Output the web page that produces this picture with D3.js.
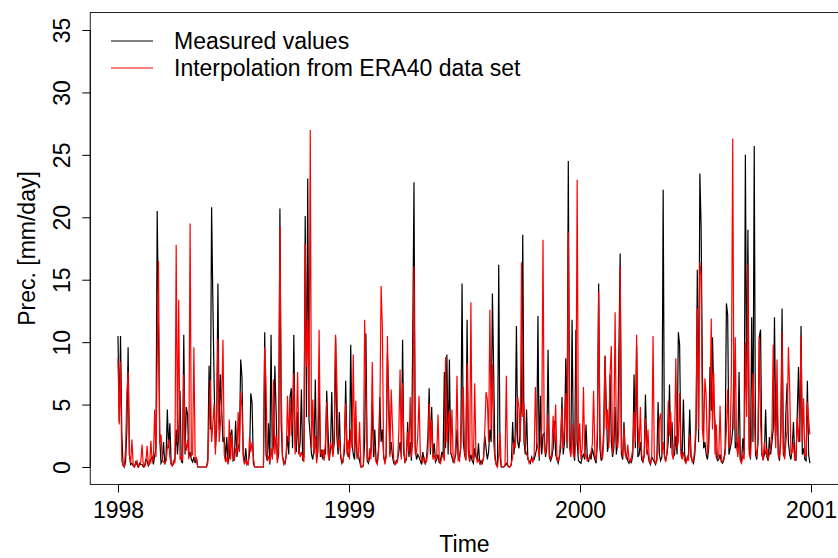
<!DOCTYPE html>
<html>
<head>
<meta charset="utf-8">
<script src="https://cdn.jsdelivr.net/npm/d3@7"></script>
<style>
  body { margin: 0; background: #fff; }
  text { font-family: "Liberation Sans", Arial, sans-serif; }
</style>
</head>
<body>
<div id="chart"></div>
<script>
// daily precipitation, sampled every 2 days from 1998-01-01
const startYear = 1998;
const stepDays = 2;

const measured = [
  10.5, 3.6, 10.5, 2.7, 0.2, 0, 0.4, 3.0, 9.6, 1.0,
  0.2, 0.3, 0.1, 0, 0.4, 0.2, 0, 0.3, 0.2, 0.2,
  0, 0.1, 0.6, 0.5, 0.1, 0.3, 0.6, 0.8, 0.2, 0.9,
  1.5, 20.5, 11.4, 2.3, 0.3, 0.5, 2.0, 0.2, 0.8, 4.6,
  1.5, 3.5, 0.3, 0.1, 0.3, 0.6, 3.0, 1.0, 2.6, 6.1,
  0.5, 0.3, 10.6, 1.0, 4.8, 4.2, 0.8, 1.2, 0.6, 0.4,
  0.8, 0.3, 0.8, 0, 0, 0, 0, 0, 0, 0,
  0, 0.6, 8.1, 3.0, 20.8, 13.2, 6.7, 1.5, 3.0, 14.7,
  3.0, 7.4, 4.5, 2.0, 2.4, 0.6, 2.4, 0.3, 0.8, 2.6,
  3.0, 0.5, 0.6, 3.7, 0.8, 1.5, 2.0, 8.6, 7.2, 1.0,
  0.3, 1.5, 0.2, 0.4, 1.0, 5.9, 5.1, 0.3, 0, 0,
  0, 0, 0, 0, 0, 0, 10.8, 1.0, 0.5, 3.5,
  0.2, 10.6, 0.8, 2.0, 8.1, 4.5, 0.5, 1.0, 20.7, 3.5,
  0.8, 0.5, 0.2, 1.0, 2.5, 1.0, 5.6, 6.3, 1.5, 10.6,
  2.0, 1.2, 4.4, 1.0, 2.0, 6.2, 0.5, 0.8, 20.1, 4.0,
  23.1, 3.8, 2.4, 1.0, 0.6, 1.5, 7.0, 0.5, 1.2, 6.7,
  0.8, 1.4, 0.6, 1.4, 1.0, 6.1, 3.0, 0.5, 1.5, 6.0,
  1.0, 2.0, 10.4, 2.5, 1.0, 4.4, 0.8, 0.3, 0.6, 1.2,
  6.9, 1.5, 0.8, 1.2, 9.8, 2.0, 1.0, 0.6, 3.4, 0.8,
  1.0, 0.5, 0, 0, 0.1, 2.0, 10.7, 0.5, 0.3, 0.8,
  1.2, 5.1, 0.8, 3.0, 0.6, 0.3, 1.5, 5.6, 2.0, 3.0,
  0.8, 0.4, 1.0, 9.1, 5.9, 1.0, 2.0, 0.8, 0.3, 0.2,
  0.5, 0.6, 1.2, 2.0, 0.8, 10.2, 1.0, 0.4, 0.6, 3.6,
  0.8, 2.0, 0.5, 10.2, 22.8, 1.5, 0.6, 1.0, 0.8, 0.5,
  0.2, 1.2, 0.6, 0.2, 0.8, 2.4, 6.3, 1.0, 4.8, 0.8,
  1.9, 0.4, 0.6, 1.0, 0.3, 0.6, 1.2, 0.8, 7.6, 1.5,
  9.0, 1.0, 8.6, 1.2, 0.8, 0.4, 0.6, 1.0, 3.0, 0.6,
  0.8, 1.5, 14.7, 2.0, 1.0, 0.6, 11.8, 1.2, 0.5, 1.0,
  0.5, 0.3, 1.5, 0.8, 0.6, 1.9, 0.2, 0.5, 0.3, 0.8,
  2.5, 1.5, 0.6, 1.2, 3.0, 2.0, 13.9, 7.6, 1.0, 0.2,
  0, 16.2, 1.0, 0, 0, 0, 0.1, 0.3, 0.1, 0,
  0, 0.2, 3.6, 1.0, 2.5, 11.3, 2.0, 1.5, 3.0, 5.0,
  18.6, 2.0, 1.0, 4.6, 0.6, 0.5, 0.3, 0.8, 0.5, 0.6,
  1.0, 1.5, 12.1, 0.5, 5.7, 1.0, 2.6, 2.7, 0.8, 1.5,
  9.4, 0.8, 0.5, 0.8, 1.5, 3.7, 1.0, 0.6, 0.3, 0.8,
  1.5, 5.6, 1.0, 2.0, 8.7, 1.5, 24.5, 2.0, 1.0, 11.8,
  1.2, 0.5, 11.0, 2.0, 0.5, 0.4, 0.3, 0.8, 1.0, 0.6,
  3.4, 0.8, 0.4, 1.0, 0.6, 1.5, 1.0, 0.6, 0.3, 2.0,
  14.7, 1.5, 0.5, 0.8, 3.0, 8.9, 5.0, 1.2, 2.0, 7.4,
  2.0, 0.8, 1.5, 4.8, 1.0, 2.0, 9.2, 17.1, 1.0, 0.6,
  3.6, 1.2, 1.0, 0.5, 0.3, 0.6, 0.4, 1.0, 7.4, 1.5,
  9.7, 0.8, 1.0, 2.0, 0.6, 0.4, 1.0, 5.8, 1.5, 1.0,
  0.4, 0.2, 0.8, 0.6, 0.4, 0.2, 0.6, 5.2, 1.0, 0.5,
  0.8, 22.2, 1.0, 0.5, 1.0, 2.0, 6.6, 1.5, 3.6, 0.8,
  1.0, 2.5, 1.0, 10.8, 9.8, 1.5, 0.8, 5.4, 1.0, 0.4,
  0.6, 1.0, 4.6, 0.8, 0.5, 0.3, 1.0, 3.0, 15.8, 2.0,
  23.5, 19.2, 7.5, 1.5, 2.0, 1.0, 0.6, 1.5, 8.0, 4.5,
  10.4, 5.6, 3.4, 0.8, 0.5, 0.6, 1.0, 0.4, 0.3, 0.6,
  1.5, 13.1, 12.2, 1.0, 1.5, 2.0, 3.0, 8.6, 1.5, 2.0,
  1.0, 7.6, 0.6, 0.5, 2.3, 1.0, 25.0, 6.0, 19.0, 1.5,
  0.6, 12.0, 2.0, 25.7, 1.0, 0.6, 2.0, 10.4, 11.0, 1.0,
  0.6, 1.0, 4.6, 0.8, 0.5, 2.4, 1.0, 2.0, 3.0, 12.0,
  2.5, 6.4, 1.0, 0.5, 3.0, 12.7, 1.0, 0.8, 4.3, 6.7,
  2.0, 1.0, 0.6, 1.5, 3.6, 0.8, 0.5, 4.2, 8.0, 2.0,
  11.3, 1.0, 1.5, 0.6, 0.5, 6.9, 1.0, 0.3
];

const era40 = [
  8.7, 3.4, 8.4, 0.5, 0.1, 0, 1.5, 5.9, 7.6, 1.0,
  0.3, 2.2, 0.2, 0, 0.3, 0.5, 0, 0.1, 0.4, 1.8,
  0.1, 0, 0.3, 1.7, 0.2, 0.2, 2.1, 0.4, 0.6, 4.6,
  0.8, 8.7, 16.5, 1.9, 2.6, 0.6, 0.4, 0.3, 0.5, 1.5,
  2.2, 0.8, 0.2, 0.1, 0.5, 0.3, 17.8, 2.0, 13.4, 0.6,
  0.8, 0.5, 7.4, 2.2, 1.3, 2.2, 0.6, 19.5, 0.9, 1.0,
  9.6, 0.5, 0.7, 0, 0, 0, 0, 0, 0, 0,
  0, 0.3, 4.0, 7.0, 2.0, 3.5, 5.1, 1.0, 4.0, 10.3,
  2.0, 3.5, 5.0, 10.2, 1.0, 0.4, 0.7, 0.2, 3.8, 0.6,
  2.5, 0.8, 0.5, 1.5, 1.0, 4.4, 1.2, 6.0, 4.8, 0.8,
  0.2, 0.6, 0.3, 0.2, 2.4, 1.2, 2.0, 0.8, 0, 0,
  0, 0, 0, 0, 0, 0, 9.6, 6.7, 0.6, 0.8,
  0.3, 1.5, 0.6, 7.0, 1.0, 2.5, 0.3, 1.8, 19.3, 6.4,
  1.0, 0.2, 0.4, 0.8, 5.7, 2.0, 5.4, 2.5, 4.0, 7.5,
  1.0, 2.8, 7.6, 1.5, 0.8, 1.2, 0.8, 0.4, 17.9, 8.0,
  11.8, 4.0, 27.0, 1.5, 5.4, 1.0, 2.5, 0.3, 2.0, 11.0,
  1.2, 0.9, 1.4, 0.5, 2.0, 5.2, 1.0, 0.6, 2.0, 1.5,
  0.8, 3.0, 10.6, 7.0, 1.5, 2.2, 1.0, 0.5, 0.4, 2.0,
  5.1, 1.0, 2.2, 0.6, 3.0, 1.5, 9.0, 1.2, 5.3, 1.0,
  0.6, 3.6, 0, 0, 0.2, 11.8, 6.6, 0.8, 0.4, 1.5,
  0.6, 8.4, 2.2, 1.0, 0.4, 0.2, 1.2, 4.0, 14.5, 11.2,
  1.0, 0.2, 0.8, 10.5, 4.2, 0.8, 6.2, 3.2, 0.6, 0.2,
  0.3, 0.4, 2.8, 7.8, 0.6, 6.7, 1.6, 0.3, 0.8, 2.8,
  1.2, 5.6, 0.8, 2.0, 16.1, 1.0, 1.2, 2.5, 5.7, 1.0,
  0.6, 0.4, 0.8, 0.3, 0.5, 1.2, 5.1, 1.5, 3.8, 0.6,
  1.0, 0.5, 1.0, 4.2, 0.5, 0.3, 0.8, 1.0, 0.5, 8.8,
  2.0, 3.5, 4.5, 1.0, 4.6, 0.6, 0.3, 1.8, 7.3, 0.8,
  0.4, 2.0, 4.0, 6.4, 1.2, 0.5, 8.3, 1.5, 0.4, 13.2,
  1.0, 0.5, 6.7, 1.0, 0.4, 0.6, 0.3, 0.2, 0.4, 0.6,
  3.0, 6.0, 5.4, 2.0, 12.6, 3.0, 8.2, 2.0, 0.6, 0.2,
  0, 1.0, 2.7, 0, 0, 0, 0.2, 7.3, 0.2, 0,
  0, 0.3, 0.8, 2.0, 1.5, 3.0, 5.6, 4.7, 2.0, 16.4,
  4.0, 5.1, 1.5, 1.0, 0.8, 0.3, 0.5, 0.6, 0.4, 1.0,
  6.4, 2.0, 1.5, 0.8, 2.0, 3.0, 18.2, 1.5, 1.0, 2.0,
  4.2, 1.0, 0.6, 1.2, 4.1, 2.0, 5.0, 0.8, 0.4, 1.0,
  2.5, 4.7, 1.5, 3.0, 5.9, 2.0, 18.8, 1.5, 0.8, 3.5,
  1.0, 0.8, 2.0, 23.0, 1.0, 3.5, 0.6, 1.5, 6.4, 0.8,
  1.0, 0.5, 0.6, 0.8, 1.2, 1.8, 6.1, 1.0, 0.5, 3.0,
  14.0, 3.1, 1.0, 0.6, 2.0, 8.9, 3.0, 4.6, 1.5, 7.4,
  9.7, 1.0, 2.5, 12.4, 2.0, 1.5, 3.0, 16.1, 1.5, 0.8,
  3.2, 1.0, 0.6, 1.8, 0.6, 0.4, 0.8, 1.5, 4.4, 2.0,
  10.6, 3.4, 1.5, 4.8, 1.0, 0.5, 0.8, 3.9, 1.0, 3.0,
  0.5, 0.3, 1.0, 10.5, 0.6, 0.3, 0.5, 1.5, 3.8, 4.3,
  1.0, 2.0, 0.8, 0.4, 1.2, 5.3, 2.5, 4.4, 1.0, 0.6,
  2.0, 8.7, 1.5, 2.0, 5.9, 1.0, 0.6, 1.2, 0.5, 0.3,
  0.8, 0.5, 2.6, 1.2, 0.4, 0.6, 1.5, 4.0, 12.7, 3.0,
  16.4, 15.4, 3.0, 2.0, 7.1, 5.7, 1.0, 2.0, 4.0, 11.9,
  3.0, 7.5, 1.0, 3.4, 0.6, 1.0, 4.9, 0.5, 0.4, 0.8,
  1.0, 3.0, 6.2, 1.5, 2.0, 7.9, 26.3, 3.0, 10.4, 2.0,
  0.8, 2.5, 0.5, 0.3, 1.0, 0.6, 10.0, 4.0, 16.3, 1.0,
  0.8, 3.0, 7.5, 4.0, 1.5, 0.8, 2.5, 10.4, 3.5, 1.2,
  0.5, 2.0, 1.0, 1.5, 0.6, 1.0, 1.5, 3.0, 9.8, 4.0,
  1.5, 8.6, 1.0, 0.8, 2.0, 10.8, 1.5, 0.6, 2.0, 3.0,
  9.6, 6.4, 1.0, 1.2, 2.0, 0.5, 0.8, 3.9, 2.0, 4.0,
  10.5, 2.0, 5.5, 0.8, 1.0, 5.2, 3.8, 2.6
];

const yearTicks = [1998, 1999, 2000, 2001];
const precTicks = [0, 5, 10, 15, 20, 25, 30, 35];
const legendItems = [
  { name: "Measured values", color: "#000000" },
  { name: "Interpolation from ERA40 data set", color: "#ff0000" }
];

const width = 838, height = 558;
const fontSize = 23;
const fontFamily = "Liberation Sans, Arial, sans-serif";

const svg = d3.select("#chart")
  .append("svg")
  .attr("width", width)
  .attr("height", height);

const x = d3.scaleLinear().domain([1998, 2001]).range([118, 811]);
const y = d3.scaleLinear().domain([0, 35]).range([467, 30]);

// R style box: 4% extension of the data range
const boxLeft = x(1998 - 0.12), boxRight = x(2001 + 0.12);
const boxTop = y(35 + 1.4), boxBottom = y(-1.4);

const toSeries = vals => vals.map((v, i) => ({ t: startYear + i * stepDays / 365.25, v: v }));

const line = d3.line()
  .x(d => x(d.t))
  .y(d => y(d.v));

svg.append("path")
  .datum(toSeries(measured))
  .attr("fill", "none")
  .attr("stroke", "#000")
  .attr("stroke-width", 1.2)
  .attr("d", line);

svg.append("path")
  .datum(toSeries(era40))
  .attr("fill", "none")
  .attr("stroke", "#ff0000")
  .attr("stroke-width", 1.2)
  .attr("d", line);

svg.append("rect")
  .attr("x", boxLeft)
  .attr("y", boxTop)
  .attr("width", boxRight - boxLeft)
  .attr("height", boxBottom - boxTop)
  .attr("fill", "none")
  .attr("stroke", "#222")
  .attr("stroke-width", 1);

// x axis
const xAxis = svg.append("g")
  .attr("transform", `translate(0,${boxBottom})`)
  .call(d3.axisBottom(x).tickValues(yearTicks).tickFormat(d3.format("d")).tickSize(8).tickPadding(9));
xAxis.select(".domain").attr("d", `M${x(1998)},0H${x(2001)}`);
xAxis.selectAll("text").attr("font-size", fontSize).attr("font-family", fontFamily).attr("fill", "#000");

// y axis
const yAxis = svg.append("g")
  .attr("transform", `translate(${boxLeft},0)`)
  .call(d3.axisLeft(y).tickValues(precTicks).tickSize(8).tickPadding(0));
yAxis.select(".domain").attr("d", `M0,${y(0)}V${y(35)}`);
yAxis.selectAll(".tick text")
  .attr("font-size", fontSize)
  .attr("font-family", fontFamily)
  .attr("fill", "#000")
  .attr("x", null).attr("dy", null)
  .attr("text-anchor", "middle")
  .attr("transform", "translate(-20,0) rotate(-90)");

// axis titles
svg.append("text")
  .attr("x", (boxLeft + boxRight) / 2)
  .attr("y", 552)
  .attr("text-anchor", "middle")
  .attr("font-size", fontSize)
  .text("Time");

svg.append("text")
  .attr("transform", `translate(35,${(boxTop + boxBottom) / 2}) rotate(-90)`)
  .attr("text-anchor", "middle")
  .attr("font-size", fontSize)
  .text("Prec. [mm/day]");

// legend
const legend = svg.append("g").attr("class", "legend");
legend.selectAll("line")
  .data(legendItems)
  .join("line")
  .attr("x1", 111).attr("x2", 153)
  .attr("y1", (d, i) => 41 + i * 27)
  .attr("y2", (d, i) => 41 + i * 27)
  .attr("stroke", d => d.color)
  .attr("stroke-width", 1);
legend.selectAll("text")
  .data(legendItems)
  .join("text")
  .attr("x", 174)
  .attr("y", (d, i) => 41 + i * 27)
  .attr("dy", "0.36em")
  .attr("font-size", fontSize)
  .text(d => d.name);
</script>
</body>
</html>
